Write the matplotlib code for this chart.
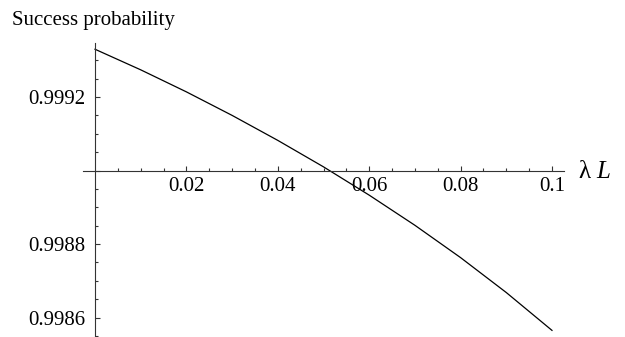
import numpy as np
import matplotlib
matplotlib.use("Agg")
import matplotlib.pyplot as plt
from matplotlib.ticker import FixedLocator, FixedFormatter, MultipleLocator

plt.rcParams['font.family'] = ['Liberation Serif', 'DejaVu Serif']

# values
lam_L = [0.0, 0.01, 0.02, 0.03, 0.04, 0.05, 0.06, 0.07, 0.08, 0.09, 0.1]
success = [0.999330, 0.999274, 0.999214, 0.999150, 0.999082, 0.999010,
           0.998933, 0.998851, 0.998763, 0.998668, 0.998565]

x_ticks = [0.02, 0.04, 0.06, 0.08, 0.1]
x_labels = ['0.02', '0.04', '0.06', '0.08', '0.1']
y_ticks = [0.9986, 0.9988, 0.9990, 0.9992]
y_labels = ['0.9986', '0.9988', '', '0.9992']

fig = plt.figure(figsize=(6.25, 3.37), dpi=100)
ax = fig.add_axes([83 / 625, 0.0, 481 / 625, 1 - 43 / 337])

ax.plot(lam_L, success, color='black', lw=0.9)

ax.set_xlim(-0.00263, 0.10263)
ax.set_ylim(0.998547, 0.999347)

# Mathematica-style crossing axes
ax.spines['left'].set_position(('data', 0.0))
ax.spines['bottom'].set_position(('data', 0.999))
ax.spines['top'].set_visible(False)
ax.spines['right'].set_visible(False)
for s in ('left', 'bottom'):
    ax.spines[s].set_linewidth(0.8)
    ax.spines[s].set_color('#333333')

ax.xaxis.set_major_locator(FixedLocator(x_ticks))
ax.xaxis.set_major_formatter(FixedFormatter(x_labels))
ax.xaxis.set_minor_locator(FixedLocator([v for v in np.arange(0.005, 0.1001, 0.005)]))
ax.yaxis.set_major_locator(FixedLocator(y_ticks))
ax.yaxis.set_major_formatter(FixedFormatter(y_labels))
ax.yaxis.set_minor_locator(MultipleLocator(0.00005))

ax.tick_params(which='both', direction='in', color='#333333', width=0.8, labelsize=15)
ax.tick_params(which='major', length=3.5)
ax.tick_params(which='minor', length=2)
ax.tick_params(axis='x', pad=5)
ax.tick_params(axis='y', pad=7)

fig.text(12 / 625, 1 - 25 / 337, 'Success probability', fontsize=15, ha='left', va='baseline')
fig.text(578 / 625, 1 - 172 / 337, 'λ', fontsize=18, ha='left', va='center')
fig.text(596 / 625, 1 - 172 / 337, 'L', fontsize=18, fontstyle='italic', ha='left', va='center')

fig.savefig('out.png', dpi=100)
